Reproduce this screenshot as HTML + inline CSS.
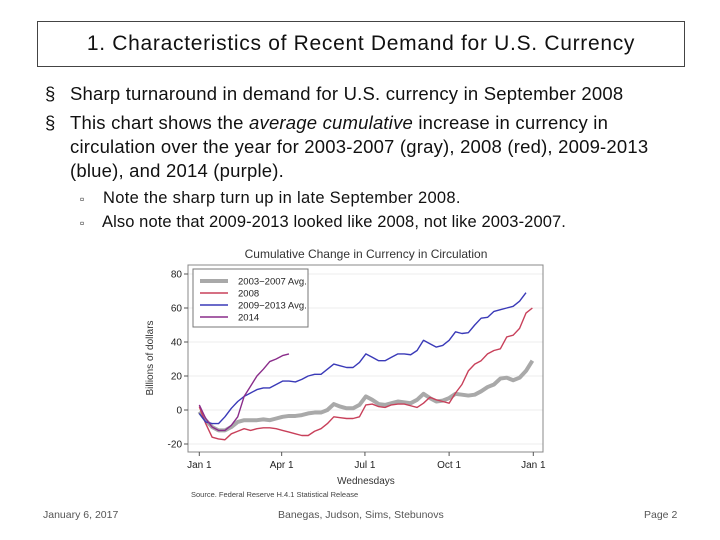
<!DOCTYPE html>
<html><head><meta charset="utf-8"><style>
body{margin:0;width:720px;height:540px;background:#fff;position:relative;font-family:"Liberation Sans",sans-serif;overflow:hidden}
.t{position:absolute;white-space:nowrap;color:#111}
</style></head><body>
<div style="position:absolute;left:37px;top:21px;width:646px;height:44px;border:1px solid #444"></div>
<div class="t" style="left:37px;width:648px;top:32px;text-align:center;font-size:21px;letter-spacing:0.7px">1. Characteristics of Recent Demand for U.S. Currency</div>
<div class="t" style="left:45px;top:83px;font-size:18.5px;letter-spacing:0.2px"><span style="position:absolute;left:0">§</span><span style="position:absolute;left:25px">Sharp turnaround in demand for U.S. currency in September 2008</span></div>
<div class="t" style="left:45px;top:111px;font-size:18.5px;line-height:24px;letter-spacing:0.2px"><span style="position:absolute;left:0">§</span><div style="position:absolute;left:25px">This chart shows the <i>average cumulative</i> increase in currency in<br>circulation over the year for 2003-2007 (gray), 2008 (red), 2009-2013<br>(blue), and 2014 (purple).</div></div>
<div class="t" style="left:80px;top:189px;font-size:16.5px;letter-spacing:0.3px"><span style="position:absolute;left:0;font-size:12px;top:3px">▫</span><span style="position:absolute;left:23px">Note the sharp turn up in late September 2008.</span></div>
<div class="t" style="left:80px;top:213px;font-size:16.5px;letter-spacing:0.1px"><span style="position:absolute;left:0;font-size:12px;top:3px">▫</span><span style="position:absolute;left:22px">Also note that 2009-2013 looked like 2008, not like 2003-2007.</span></div>
<div class="t" style="left:43px;top:509px;font-size:10.5px;color:#555">January 6, 2017</div>
<div class="t" style="left:278px;top:509px;font-size:10.5px;color:#555">Banegas, Judson, Sims, Stebunovs</div>
<div class="t" style="left:644px;top:509px;font-size:10.5px;color:#555">Page 2</div>
<svg id="chart" width="720" height="540" style="position:absolute;left:0;top:0" font-family="Liberation Sans, sans-serif"></svg>
<script>
const yTicks=[80,60,40,20,0,-20];
const xTickLabels=["Jan 1","Apr 1","Jul 1","Oct 1","Jan 1"];
const xTickDays=[0,90,181,273,365];
const gray=[-1,-6,-10,-12,-12,-10,-7,-6,-6,-6,-5.5,-6,-5,-4,-3.5,-3.5,-3,-2,-1.5,-1.5,0,3.5,2,1,1,3,8,6,3.5,3,4,5,4.5,4,6,9.5,7,5,5.5,7,9.5,9,8.5,9,11,13.5,15,18.5,19,17.5,19,23,29];
const red=[2,-8,-16,-17,-17.5,-14,-12.5,-11,-12,-11,-10.5,-10.5,-11,-12,-13,-14,-15,-15,-12.5,-11,-8,-4,-4.5,-5,-5,-4,3,3.5,2,1.5,3,3.5,3.5,2.5,1.5,4,7.5,6,5,4,10,15,23,27,29,33,35,36,43,44,48,57,60];
const blue=[-2,-7,-8,-8,-4,1,5,8,10,12,13,13,15,17,17,16.5,18,20,21,21,24,27,26,25,25,28,33,31,29,29,31,33,33,32.5,35,41,39,37,38,41,46,45,45.5,50,54,54.5,58,59,60,61,64,69];
const purple=[3,-5,-10,-12,-12,-9,-4,8,14,20,24,28.5,30,32,33];
const seriesNames=["2003\u22122007 Avg.","2008","2009\u22122013 Avg.","2014"];
const svg=document.getElementById('chart');const NS="http://www.w3.org/2000/svg";
function el(t,a){const e=document.createElementNS(NS,t);for(const k in a)e.setAttribute(k,a[k]);svg.appendChild(e);return e;}
const X=d=>199.3+d*(334/365);const Y=v=>410-v*1.7;
const pl=188,pr=543,pt=265,pb=452;
for(const v of yTicks){const g=el('line',{x1:pl,x2:pr,y1:Y(v),y2:Y(v),stroke:'#ececec'});

}
const fr=el('rect',{x:pl,y:pt,width:pr-pl,height:pb-pt,fill:'none',stroke:'#888'});


for(const v of yTicks){el('line',{x1:pl-4,x2:pl,y1:Y(v),y2:Y(v),stroke:'#555'});
const t=el('text',{x:pl-6,y:Y(v)+3.5,'text-anchor':'end','font-size':10,fill:'#222'});t.textContent=v;

}
xTickDays.forEach((d,i)=>{el('line',{x1:X(d),x2:X(d),y1:pb,y2:pb+4,stroke:'#555'});
const t=el('text',{x:X(d),y:pb+16,'text-anchor':'middle','font-size':10,fill:'#222'});t.textContent=xTickLabels[i];

});
function line(arr,color,w,name){const p=el('polyline',{points:arr.map((v,i)=>X(i*7)+','+Y(v)).join(' '),fill:'none',stroke:color,'stroke-width':w,'stroke-linejoin':'round'});

}
line(gray,'#a9a9a9',4,'series-2003-2007');
line(red,'#c8405a',1.4,'series-2008');
line(blue,'#3a3ab8',1.4,'series-2009-2013');
line(purple,'#8a2d8a',1.4,'series-2014');
const tt=el('text',{x:366,y:258,'text-anchor':'middle','font-size':12,fill:'#333'});tt.textContent="Cumulative Change in Currency in Circulation";


const yl=el('text',{x:0,y:0,'text-anchor':'middle','font-size':10,fill:'#333',transform:'translate(153,358) rotate(-90)'});yl.textContent="Billions of dollars";


const xl=el('text',{x:366,y:484,'text-anchor':'middle','font-size':10,fill:'#333'});xl.textContent="Wednesdays";


const src=el('text',{x:191,y:497,'font-size':7.5,fill:'#444'});src.textContent="Source. Federal Reserve H.4.1 Statistical Release";


const lb=el('rect',{x:193,y:269,width:115,height:58,fill:'#fff',stroke:'#777'});


const lc=['#a9a9a9','#c8405a','#3a3ab8','#8a2d8a'],lw=[4,1.4,1.4,1.4];
seriesNames.forEach((n,i)=>{const y=281+i*12;el('line',{x1:200,x2:228,y1:y,y2:y,stroke:lc[i],'stroke-width':lw[i]});
const t=el('text',{x:238,y:y+3.5,'font-size':9.5,fill:'#222'});t.textContent=n;

});
</script>
</body></html>
